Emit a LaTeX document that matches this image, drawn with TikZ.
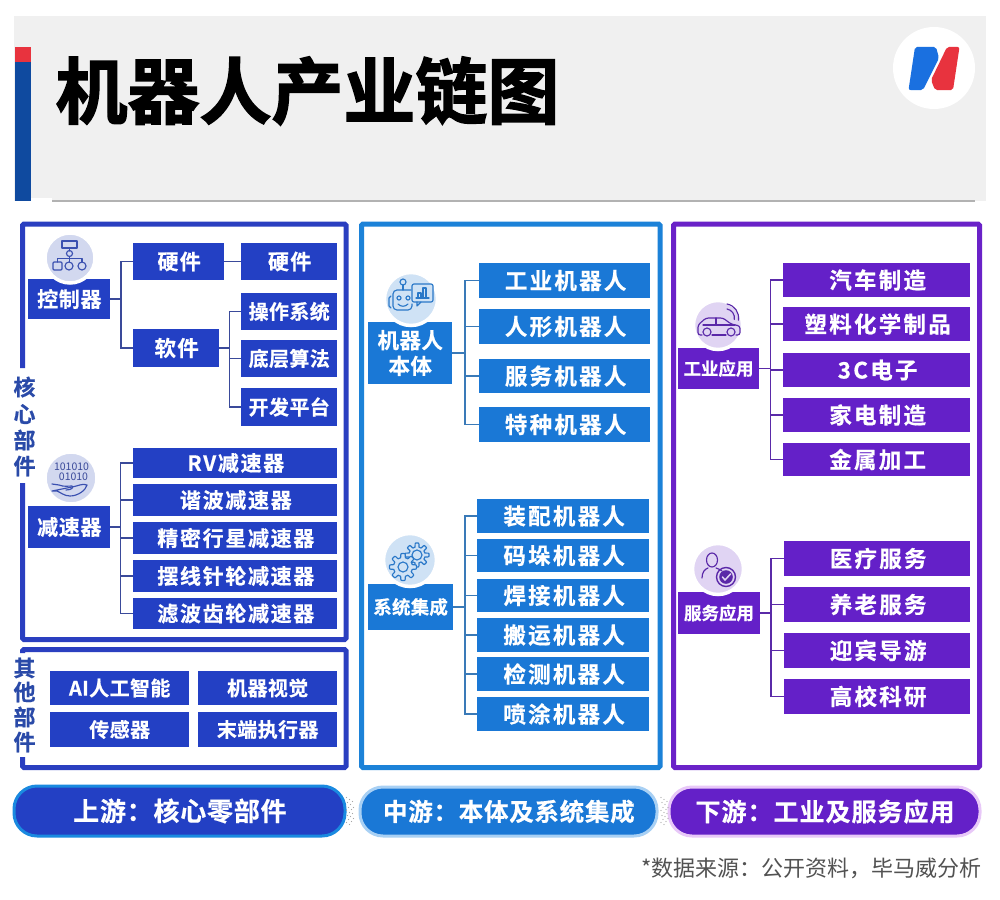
\documentclass[tikz,border=0pt]{standalone}
\usepackage{fontspec}
\setmainfont{Noto Sans CJK SC}[BoldFont={Noto Sans CJK SC Bold},BoldFeatures={FakeBold=0.5}]
\newfontfamily\titlefont{Noto Sans CJK SC Bold}[FakeBold=2.0]
\definecolor{navy}{HTML}{2340C4}
\definecolor{sky}{HTML}{1A78D6}
\definecolor{violet}{HTML}{6420C8}
\definecolor{navyline}{HTML}{2A3FC0}
\definecolor{skyline}{HTML}{1C82D8}
\definecolor{violetline}{HTML}{6A22C8}
\definecolor{navyconn}{HTML}{3A4A9A}
\definecolor{skyconn}{HTML}{3A7AB8}
\definecolor{violetconn}{HTML}{5A2AA8}
\definecolor{sidetext}{HTML}{2A4AA8}
\definecolor{barblue}{HTML}{0F4A9F}
\definecolor{barred}{HTML}{E8333E}
\definecolor{logoblue}{HTML}{1A70E0}
\definecolor{bgnavy}{HTML}{D2D8EF}
\definecolor{bgsky}{HTML}{CFE2F5}
\definecolor{bgviolet}{HTML}{E0D4F3}
\definecolor{iconavy}{HTML}{3A50B0}
\definecolor{icosky}{HTML}{2A78C8}
\definecolor{icoviolet}{HTML}{5A28A8}
\definecolor{rimnavy}{HTML}{1A8AE0}
\definecolor{rimsky}{HTML}{A8D0F4}
\definecolor{rimviolet}{HTML}{E8C8F8}
\newcommand\lbl[3]{\fontsize{#1}{#1}\bfseries\addfontfeature{LetterSpace=#2}\leavevmode\kern\dimexpr #1pt*#2/100\relax #3}
\newcommand\plainlbl[1]{#1}
\newcommand\tile[8]{\node[tile,fill=#1,minimum width={#5-#3},minimum height={#6-#4}] (#2) at ({(#3+#5)/2},{(#4+#6)/2}) {#7{#8}};}
\newcommand\branch[4]{\coordinate (#2) at (#3,0);
  \foreach \tgt in {#4} {\draw[conn] (#1.east) -- (#1.east -| #2) -- (#2 |- \tgt.west) -- (\tgt.west);}}
\newcommand\iconbg[4]{\fill[#4,draw=white,line width=3.5pt] (#1,#2) circle (#3);}
\newcommand\gear[3]{\draw[ico,fill=#3] plot[domain=0:360,samples=145] ({\x}:{#1+2.0*max(min(3*cos(8*\x),1),-1)}) -- cycle; \draw[ico] (0,0) circle ({#2});}
\tikzset{
  tile/.style={inner sep=0pt,outer sep=0pt,align=center,text=white},
  conn/.style={line width=1.4pt,line join=miter},
  panel/.style={line width=5pt,rounded corners=1.5pt,line cap=butt},
  ico/.style={line width=1.15pt,line join=round,line cap=round},
  sidelab/.style={inner sep=0pt,text=sidetext,font=\fontsize{22}{22}\bfseries},
  pill/.style={inner sep=0pt,rounded corners=23pt,line width=3pt,text=white},
}
\begin{document}
\begin{tikzpicture}[x=1pt,y=-1pt]
\useasboundingbox (0,0) rectangle (1000,899);
\fill[white] (0,0) rectangle (1000,899);
% header
\fill[black!6] (14,16) rectangle (986,201);
\fill[white] (31,198) rectangle (52,202);
\fill[barblue] (15,47) rectangle (31,201);
\fill[barred] (15,47) rectangle (31,62);
\draw[line width=1.3pt,black!30] (52,201) -- (975,201);
\node[inner sep=0pt,font=\titlefont\fontsize{72}{72}\selectfont] (title) at (307.5,91) {机器人产业链图};
% logo
\fill[white] (934,68) circle (41);
\fill[logoblue,rounded corners=2pt] (915,47) -- (936,47) -- (939,58) -- (923,90) -- (908.5,90) -- cycle;
\fill[barred,rounded corners=2pt] (947,47) -- (959.5,47) -- (953,90) -- (935,90) -- (931,80) -- cycle;
% panels
\draw[panel,navyline] (22.5,368) -- (22.5,224) -- (346,224) -- (346,639.5) -- (22.5,639.5) -- (22.5,483);
\draw[panel,navyline] (22.5,653) -- (22.5,649.5) -- (346,649.5) -- (346,767.5) -- (22.5,767.5) -- (22.5,757);
\draw[panel,skyline] (361.5,224) rectangle (660,767.5);
\draw[panel,violetline] (673.5,224) rectangle (979.5,767.5);
\foreach \n/\y/\t in {sa/387/核,sb/414/心,sc/440/部,sd/466/件,se/668/其,sf/692/他,sg/717/部,sh/742/件}
  \node[sidelab] (\n) at (24.5,\y) {\t};
% ---- upstream
\def\fb{\lbl{20}{2}}
\def\fc{\lbl{21}{8}}
\tile{navy}{ctrl}{28}{279}{110}{319}{\lbl{21}{3}}{控制器}
\tile{navy}{hwa}{133}{243}{224}{280}{\lbl{21}{6}}{硬件}
\tile{navy}{hwb}{241}{243}{337}{280}{\lbl{21}{6}}{硬件}
\tile{navy}{sw}{133}{329}{219}{367}{\lbl{21.5}{6}}{软件}
\tile{navy}{os}{241}{293}{337}{330}{\fb}{操作系统}
\tile{navy}{algo}{241}{340}{337}{377}{\fb}{底层算法}
\tile{navy}{dev}{241}{388}{337}{426}{\fb}{开发平台}
\tile{navy}{rv}{133}{448}{337}{478}{\fc}{RV减速器}
\tile{navy}{hd}{133}{484}{337}{516}{\fc}{谐波减速器}
\tile{navy}{pl}{133}{522}{337}{554}{\fc}{精密行星减速器}
\tile{navy}{cy}{133}{560}{337}{592}{\fc}{摆线针轮减速器}
\tile{navy}{fi}{133}{598}{337}{629}{\fc}{滤波齿轮减速器}
\tile{navy}{red}{28}{506}{110}{548}{\lbl{21}{3}}{减速器}
\tile{navy}{ai}{50}{671}{189}{705}{\fb}{AI人工智能}
\tile{navy}{vis}{198}{671}{337}{705}{\fb}{机器视觉}
\tile{navy}{sen}{50}{712}{189}{747}{\fb}{传感器}
\tile{navy}{eff}{198}{712}{337}{747}{\fb}{末端执行器}
\begin{scope}[navyconn]
\branch{ctrl}{tra}{121}{hwa,sw}
\branch{sw}{trb}{229.5}{os,algo,dev}
\draw[conn] (hwa.east) -- (hwb.west);
\branch{red}{trc}{120.5}{rv,hd,pl,cy,fi}
\end{scope}
% ---- midstream
\def\fd{\lbl{22.5}{10}}
\tile{sky}{rob}{368}{322}{452}{384}{\plainlbl}{\lbl{21.5}{2}{机器人}\\[4.5pt]\lbl{21.5}{2}{本体}}
\tile{sky}{ind}{479}{263}{650}{298}{\fd}{工业机器人}
\tile{sky}{hum}{479}{309}{650}{344}{\fd}{人形机器人}
\tile{sky}{srv}{479}{359}{650}{393}{\fd}{服务机器人}
\tile{sky}{spe}{479}{407}{650}{442}{\fd}{特种机器人}
\tile{sky}{sys}{368}{584}{453}{630}{\lbl{18.5}{1}}{系统集成}
\tile{sky}{asm}{477}{499}{649}{533}{\fd}{装配机器人}
\tile{sky}{pal}{477}{539}{649}{572}{\fd}{码垛机器人}
\tile{sky}{wel}{477}{579}{649}{612}{\fd}{焊接机器人}
\tile{sky}{car}{477}{618}{649}{652}{\fd}{搬运机器人}
\tile{sky}{det}{477}{657}{649}{691}{\fd}{检测机器人}
\tile{sky}{spr}{477}{697}{649}{731}{\fd}{喷涂机器人}
\begin{scope}[skyconn]
\branch{rob}{trd}{465}{ind,hum,srv,spe}
\branch{sys}{tre}{465}{asm,pal,wel,car,det,spr}
\end{scope}
% ---- downstream
\tile{violet}{iapp}{678}{348}{759}{389}{\lbl{17.5}{0}}{工业应用}
\tile{violet}{auto}{783}{263}{970}{297}{\fd}{汽车制造}
\tile{violet}{plas}{783}{307}{970}{341}{\fd}{塑料化学制品}
\tile{violet}{tc}{783}{353}{970}{387}{\fd}{3C电子}
\tile{violet}{home}{783}{398}{970}{432}{\fd}{家电制造}
\tile{violet}{met}{783}{443}{970}{476}{\fd}{金属加工}
\tile{violet}{sapp}{678}{592}{760}{634}{\lbl{17.5}{0}}{服务应用}
\tile{violet}{med}{784}{541}{970}{576}{\fd}{医疗服务}
\tile{violet}{eld}{784}{587}{970}{622}{\fd}{养老服务}
\tile{violet}{gui}{784}{633}{970}{668}{\fd}{迎宾导游}
\tile{violet}{uni}{784}{679}{970}{714}{\fd}{高校科研}
\begin{scope}[violetconn]
\branch{iapp}{trf}{770.5}{auto,plas,tc,home,met}
\branch{sapp}{trg}{771}{med,eld,gui,uni}
\end{scope}
% ---- icons
\iconbg{70}{258}{25}{bgnavy}
\begin{scope}[iconavy,ico]
\draw (62,241) rectangle (77,248);
\draw (69.5,248) -- (69.5,251);
\draw (69.5,253.5) circle (3);
\draw (69.5,256.5) -- (69.5,262);
\draw (57.5,262) -- (57.5,258.5) -- (82,258.5) -- (82,262);
\draw[rounded corners=1pt] (53,262) rectangle (62,270);
\draw (69,266) circle (4);
\draw (82,266) circle (4);
\end{scope}
\iconbg{71}{478}{26}{bgnavy}
\node[inner sep=0pt,text=navyconn,font=\fontsize{10.5}{11}\selectfont] (bina) at (71.5,467) {101010};
\node[inner sep=0pt,text=navyconn,font=\fontsize{10.5}{11}\selectfont] (binb) at (73.5,477) {01010};
\begin{scope}[iconavy,ico]
\draw (52,484) -- (59,485) .. controls (64,487) and (68,486) .. (72,486) .. controls (74,487) and (72,490) .. (66,490);
\draw (72,487) .. controls (78,486) and (83,483) .. (87,485) .. controls (86,490) and (78,496) .. (70,496) .. controls (64,496) and (60,492) .. (57,491) -- (52,491) -- cycle;
\end{scope}
\iconbg{411}{299}{26.5}{bgsky}
\begin{scope}[icosky,ico]
\draw (403,282) circle (3);
\draw (403,285) -- (403,290);
\draw[rounded corners=4pt] (411,290) -- (393,290) -- (393,310) -- (412,310) -- (412,304);
\draw (391,296) -- (389,298) -- (389,306) -- (391,308);
\draw (399,298) circle (2);
\draw (408,298) circle (2);
\draw (398,304) .. controls (401,307) and (405,307) .. (408,304);
\draw[rounded corners=2pt,fill=bgsky] (412,284) rectangle (433,302);
\draw (417,302) -- (417,306) -- (421,302);
\draw (416,298) -- (429,298);
\draw (418,298) -- (418,293) -- (421,293) -- (421,298);
\draw (423,298) -- (423,288) -- (426,288) -- (426,298);
\end{scope}
\iconbg{410}{560}{26.5}{bgsky}
\begin{scope}[icosky,ico]
\begin{scope}[shift={(417,555)}] \gear{10}{5}{bgsky} \end{scope}
\begin{scope}[shift={(403,567)}] \gear{11.5}{5}{bgsky} \end{scope}
\end{scope}
\iconbg{718}{325}{24.5}{bgviolet}
\begin{scope}[icoviolet,ico]
\draw[rounded corners=2.5pt] (702,335) -- (698,335) -- (698,325) -- (706,318) -- (723,318) -- (731,324) -- (740,326) -- (740,335) -- (736,335);
\draw (712,335) -- (726,335);
\draw (707,332) circle (4);
\draw (731,332) circle (4);
\draw (703,325) -- (735,325);
\draw (716,318) -- (716,325);
\draw (727,309) arc (-80:10:9);
\draw (727,304) arc (-80:10:14);
\end{scope}
\iconbg{718}{569}{25.5}{bgviolet}
\begin{scope}[icoviolet,ico]
\draw (712,560) ellipse (5.5 and 7);
\draw (702,578) .. controls (702,572) and (705,569) .. (708,568);
\draw (716,568) .. controls (719,569) and (721,570) .. (722,571);
\draw[line width=1.4pt] (726,577) circle (9.5);
\fill (726,577) circle (6.8);
\draw[bgviolet,line width=1.5pt] (722.5,577) -- (725,580) -- (730.5,574);
\end{scope}
% ---- pills
\node[pill,fill=navy,draw=rimnavy,minimum width=331pt,minimum height=50pt] (up) at (179.5,811) {\raisebox{-1.5pt}{\lbl{26}{3}{上游：核心零部件}}};
\node[pill,fill=sky,draw=rimsky,minimum width=297pt,minimum height=49pt] (mid) at (508.5,811.5) {\raisebox{-1.5pt}{\lbl{24.5}{3}{中游：本体及系统集成}}};
\node[pill,fill=violet,draw=rimviolet,minimum width=311pt,minimum height=49pt] (down) at (824.5,811.5) {\raisebox{-1.5pt}{\lbl{25}{4}{下游：工业及服务应用}}};
\foreach \cx in {346.5,661} \foreach \dx/\dy in {0/-14,3/-12,1/-9,4/-7,6/-10,2/-4,5/-2,7/-4,0/-1,3/1,6/2,1/4,4/5,7/7,2/8,5/10,0/11,3/13}
  \fill[black!35] (\cx+\dx,811.5+\dy) circle (.7);
\node[anchor=east,inner sep=0pt,text=black!68,font=\fontsize{22}{22}\selectfont] (src) at (982,868) {*数据来源：公开资料，毕马威分析};
\end{tikzpicture}
\end{document}
